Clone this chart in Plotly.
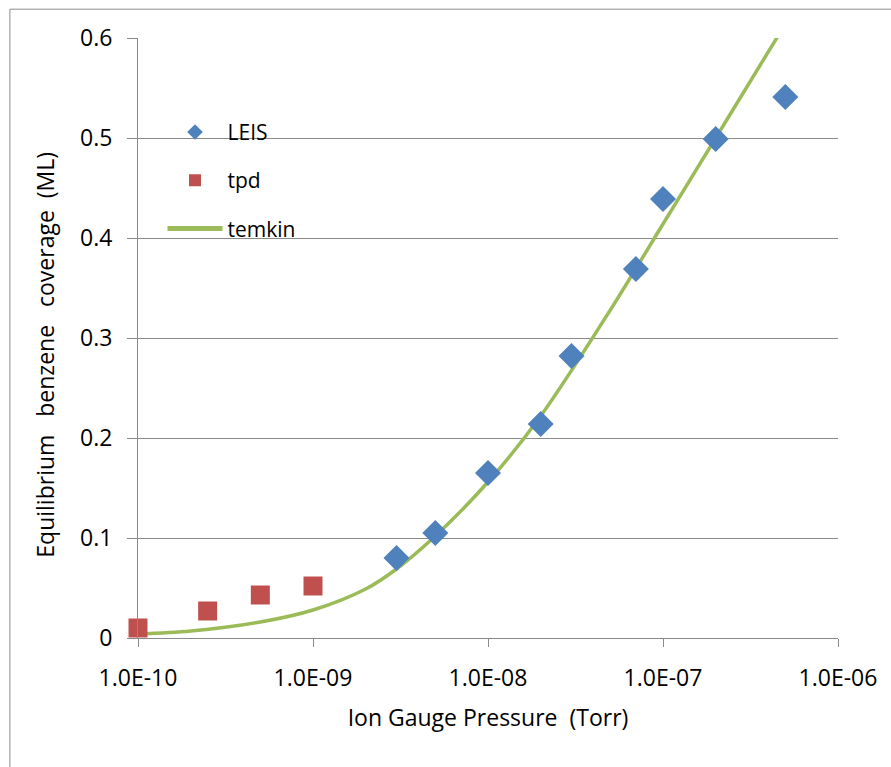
import plotly.graph_objects as go

# ---- data ----
leis_p = [3e-9, 5e-9, 1e-8, 2e-8, 3e-8, 7e-8, 1e-7, 2e-7, 5e-7]
leis_cov = [0.080, 0.105, 0.165, 0.214, 0.282, 0.369, 0.439, 0.499, 0.541]

tpd_p = [1e-10, 2.5e-10, 5e-10, 1e-9]
tpd_cov = [0.010, 0.027, 0.043, 0.052]

temkin_p = [1e-10, 2e-10, 5e-10, 1e-9, 2e-9, 3e-9, 5e-9, 1e-8, 2e-8, 5e-8, 1e-7, 2e-7, 5e-7]
temkin_cov = [0.004, 0.007, 0.016, 0.028, 0.049, 0.069, 0.102, 0.156, 0.222, 0.328, 0.414, 0.500, 0.614]

x_tickvals = [1e-10, 1e-9, 1e-8, 1e-7, 1e-6]
x_ticktext = ["1.0E-10", "1.0E-09", "1.0E-08", "1.0E-07", "1.0E-06"]
y_tickvals = [0, 0.1, 0.2, 0.3, 0.4, 0.5, 0.6]
y_ticktext = ["0", "0.1", "0.2", "0.3", "0.4", "0.5", "0.6"]

FONT = "'Open Sans', Lato, sans-serif"
GRID = "#8a8a8a"
NB = "\u00a0"
Y_TITLE = "Equilibrium" + NB * 3 + "benzene" + NB * 3 + "coverage" + NB * 2 + "(ML)"
X_TITLE = "Ion Gauge Pressure" + NB + NB + "(Torr)"

fig = go.Figure()
fig.add_trace(go.Scatter(
    x=temkin_p, y=temkin_cov, name="temkin", mode="lines",
    line=dict(color="#9BBB59", width=3.5, shape="spline", smoothing=0.9),
    legendrank=3, legendgroup="c"))
fig.add_trace(go.Scatter(
    x=leis_p, y=leis_cov, name="LEIS", mode="markers",
    marker=dict(symbol="diamond", size=20, color="#4F81BD"),
    legendrank=1, legendgroup="a", cliponaxis=False))
fig.add_trace(go.Scatter(
    x=tpd_p, y=tpd_cov, name="tpd", mode="markers",
    marker=dict(symbol="square", size=19, color="#C0504D"),
    legendrank=2, legendgroup="b", cliponaxis=False))

fig.update_layout(
    width=891, height=767,
    margin=dict(l=138, r=53, t=38, b=129),
    paper_bgcolor="white", plot_bgcolor="white",
    font=dict(family=FONT, size=23, color="#000000"),
    showlegend=True,
    legend=dict(x=0.035, y=0.877, xanchor="left", yanchor="top",
                bgcolor="rgba(0,0,0,0)", tracegroupgap=18, itemwidth=55,
                font=dict(family=FONT, size=21, color="#000000"),
                itemsizing="constant"),
    xaxis=dict(type="log", range=[-10, -6], tickvals=x_tickvals, ticktext=x_ticktext,
               showgrid=False, zeroline=False, showline=True, linecolor=GRID, linewidth=1,
               ticks="outside", ticklen=8, tickcolor=GRID, ticklabelstandoff=11,
               tickfont=dict(family=FONT, size=23),
               title=dict(text=X_TITLE, font=dict(family=FONT, size=23), standoff=18)),
    yaxis=dict(range=[0, 0.6], tickvals=y_tickvals, ticktext=y_ticktext,
               showgrid=True, gridcolor=GRID, gridwidth=1, zeroline=False,
               showline=True, linecolor=GRID, linewidth=1,
               ticks="outside", ticklen=10, tickcolor=GRID, ticklabelstandoff=10,
               tickfont=dict(family=FONT, size=23)),
)

fig.add_annotation(text=Y_TITLE, xref="paper", yref="paper",
                   x=-0.133, y=0.472, xanchor="center", yanchor="middle",
                   textangle=-90, showarrow=False,
                   font=dict(family=FONT, size=23, color="#000000"))

# outer chart frame
fig.add_shape(type="rect", xref="paper", yref="paper",
              x0=-0.183, y0=-0.25, x1=1.1, y1=1.048,
              line=dict(color="#8c8c8c", width=1), fillcolor="rgba(0,0,0,0)",
              layer="below")

fig.write_html("out.html")
